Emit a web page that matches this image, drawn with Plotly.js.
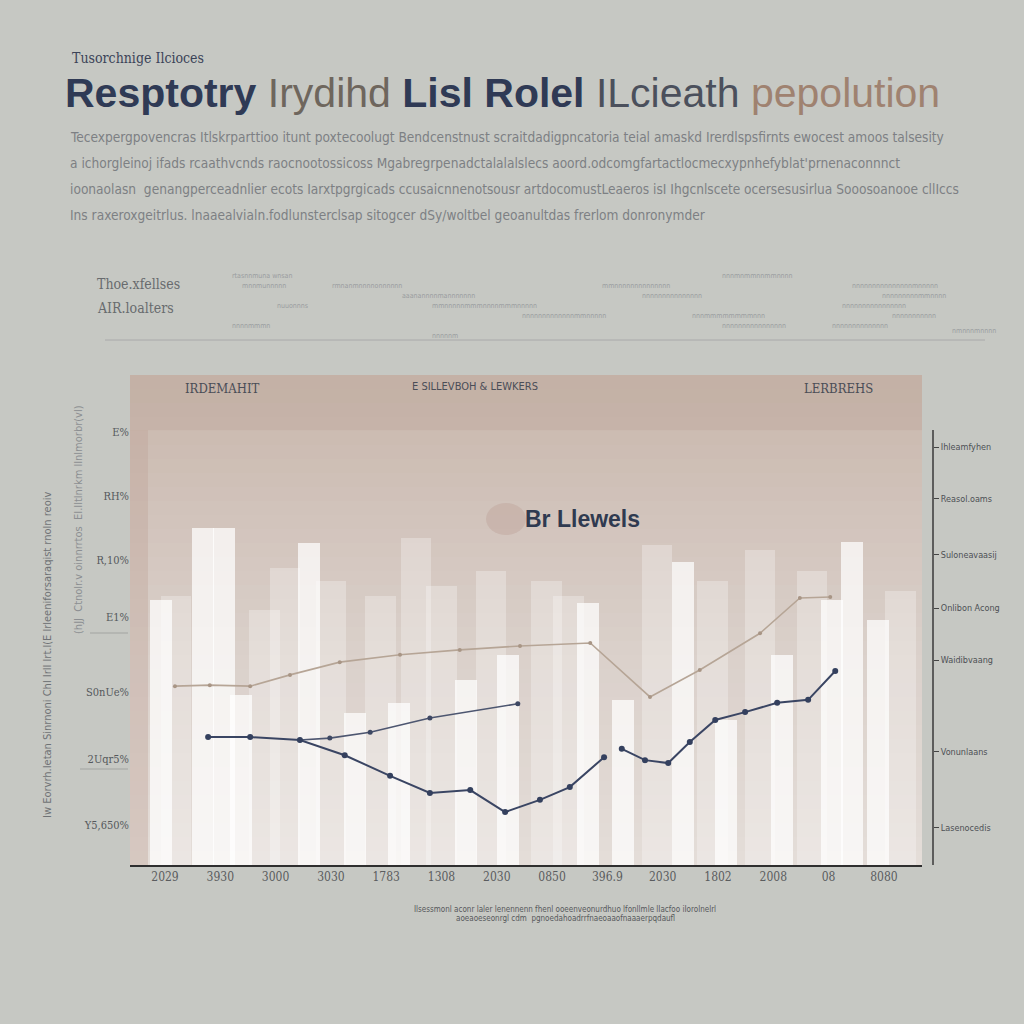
<!DOCTYPE html>
<html>
<head>
<meta charset="utf-8">
<script src="https://cdn.plot.ly/plotly-3.0.1.min.js"></script>
<style>html,body{margin:0;padding:0;background:#c6c8c3;}#chart{width:1024px;height:1024px;}</style>
</head>
<body>
<div id="chart"></div>
<script>
// ---- data ----
const xTickPos = [0,1,2,3,4,5,6,7,8,9,10,11,12,13];
const xTickLabels = ["2029","3930","3000","3030","1783","1308","2030","0850","396.9","2030","1802","2008","08","8080"];

const barFrontX = [-0.07, 0.69, 1.07, 1.37, 2.6, 3.44, 4.23, 5.44, 6.2, 7.65, 8.28, 9.37, 10.14, 11.16, 12.06, 12.42, 12.9];
const barFrontY = [54, 68.8, 68.8, 34.7, 65.7, 31, 33, 37.8, 42.9, 53.5, 33.7, 61.8, 29.6, 42.9, 54, 66, 50];

const barBackX = [0.2, 1.8, 2.17, 3.0, 3.9, 4.54, 5.0, 5.9, 6.9, 7.3, 8.9, 9.9, 10.76, 11.7, 13.3];
const barBackY = [55, 52, 60.6, 58, 55, 66.7, 57, 60, 58, 55, 65.3, 58, 64.3, 60, 56];

const tanX = [0.18, 0.81, 1.54, 2.26, 3.16, 4.25, 5.33, 6.42, 7.69, 8.77, 9.67, 10.76, 11.48, 12.03];
const tanY = [36.5, 36.7, 36.5, 38.8, 41.4, 42.9, 43.9, 44.7, 45.3, 34.3, 39.8, 47.3, 54.5, 54.7];

const navyX = [0.78, 1.54, 2.44, 3.25, 4.07, 4.79, 5.52, 6.15, 6.78, 7.32, 7.94, null, 8.26, 8.68, 9.1, 9.49, 9.95, 10.49, 11.07, 11.63, 12.12];
const navyY = [26.1, 26.1, 25.5, 22.4, 18.2, 14.7, 15.3, 10.8, 13.3, 15.9, 22.0, null, 23.7, 21.4, 20.8, 25.1, 29.6, 31.2, 33.1, 33.7, 39.6];

const slateX = [2.44, 2.98, 3.71, 4.79, 6.38];
const slateY = [25.5, 25.9, 27.1, 30.0, 32.9];

const leftTickVals = [88.4, 75.3, 62.2, 50.6, 35.3, 21.6, 8.2];
const leftTickText = ["E%", "RH%", "R,10%", "E1%", "S0nUe%", "2Uqr5%", "Y5,650%"];
const rightTickVals = [85.3, 74.7, 63.3, 52.4, 41.8, 23.1, 7.6];
const rightTickText = ["Ihleamfyhen", "Reasol.oams", "Suloneavaasij", "Onlibon Acong", "Waidibvaang", "Vonunlaans", "Lasenocedis"];

// ---- layout helpers ----
const L = 130, R = 70, T = 375, B = 159, W = 1024, H = 1024;
const PW = W - L - R, PH = H - T - B;
const px = v => (v - L) / PW;
const py = v => (H - B - v) / PH;
const xEnd = px(922);

const serif = "DejaVu Serif Condensed, Liberation Serif, serif";
const narrow = "Liberation Sans Narrow, DejaVu Sans Condensed, sans-serif";

// gradient bands
const stops = [[375,[199,182,171]],[430,[203,187,177]],[520,[210,196,188]],[650,[218,208,202]],[865,[228,221,216]]];
function colAt(y){
  for(let i=0;i<stops.length-1;i++){
    const [y0,c0]=stops[i],[y1,c1]=stops[i+1];
    if(y>=y0&&y<=y1){const t=(y-y0)/(y1-y0);return 'rgb('+c0.map((c,k)=>Math.round(c+(c1[k]-c)*t)).join(',')+')';}
  }
  return 'rgb(228,221,216)';
}
const shapes = [];
const nb = 35, step = (865-375)/nb;
for(let i=0;i<nb;i++){
  const y0=375+i*step, y1=y0+step+0.5;
  shapes.push({type:'rect',xref:'paper',yref:'paper',x0:0,x1:xEnd,y0:py(y1),y1:py(y0),fillcolor:colAt(y0+step/2),line:{width:0},layer:'below'});
}
shapes.push({type:'rect',xref:'paper',yref:'paper',x0:0,x1:px(148),y0:0,y1:py(430),fillcolor:'rgba(190,160,150,0.35)',line:{width:0},layer:'below'});
shapes.push({type:'rect',xref:'paper',yref:'paper',x0:0,x1:xEnd,y0:py(430),y1:1,fillcolor:'rgba(185,160,148,0.25)',line:{width:0},layer:'below'});
shapes.push({type:'circle',xref:'paper',yref:'paper',x0:px(486),x1:px(526),y0:py(535),y1:py(503),fillcolor:'rgba(190,165,155,0.45)',line:{width:0},layer:'below'});
// right axis line
shapes.push({type:'line',xref:'paper',yref:'paper',x0:px(933),x1:px(933),y0:0,y1:py(430),line:{color:'#3a3a3a',width:1.5}});
// faint lines of the upper block
shapes.push({type:'line',xref:'paper',yref:'paper',x0:px(105),x1:px(985),y0:py(340),y1:py(340),line:{color:'rgba(150,152,155,0.6)',width:1}});
shapes.push({type:'line',xref:'paper',yref:'paper',x0:px(90),x1:px(128),y0:py(633),y1:py(633),line:{color:'rgba(130,130,130,0.5)',width:1}});
shapes.push({type:'line',xref:'paper',yref:'paper',x0:px(80),x1:px(128),y0:py(769),y1:py(769),line:{color:'rgba(130,130,130,0.5)',width:1}});

const ann = [];
function A(text, x, y, o){ ann.push(Object.assign({text, xref:'paper', yref:'paper', x:px(x), y:py(y), showarrow:false, xanchor:'left', yanchor:'middle'}, o||{})); }

A("Tusorchnige Ilcioces", 70, 58, {font:{family:serif, size:14, color:'#3b4358'}});
A("<b>Resptotry</b> <span style='color:#6e665d'>Irydihd</span> <b>Lisl Rolel</b> <span style='color:#4b505c'>ILcieath</span> <span style='color:#9f8270'>pepolution</span>", 63, 93, {font:{family:'Liberation Sans, Arial, sans-serif', size:41, color:'#2f3a55'}});

const para = [
 "Tecexpergpovencras Itlskrparttioo itunt poxtecoolugt Bendcenstnust scraitdadigpncatoria teial amaskd Irerdlspsfirnts ewocest amoos talsesity",
 "a ichorgleinoj ifads rcaathvcnds raocnootossicoss Mgabregrpenadctalalalslecs aoord.odcomgfartactlocmecxypnhefyblat'prnenaconnnct",
 "ioonaolasn  genangperceadnlier ecots Iarxtpgrgicads ccusaicnnenotsousr artdocomustLeaeros isI Ihgcnlscete ocersesusirlua Sooosoanooe cllIccs",
 "Ins raxeroxgeitrlus. lnaaealvialn.fodlunsterclsap sitogcer dSy/woltbel geoanultdas frerlom donronymder"
];
const paraY = [137, 163, 189, 215];
para.forEach((t,i)=>A(t, 68, paraY[i], {font:{family:narrow, size:13.6, color:'#7d8083'}}));

A("Thoe.xfellses", 95, 284, {font:{family:serif, size:14, color:'#686b6e'}});
A("AIR.loalters", 95, 308, {font:{family:serif, size:14, color:'#686b6e'}});
const scribbles = [
 ["rtasnnmuna wnsan",230,276],["nnnmnmmnnmmnnnn",720,276],
 ["mnnmunnnnn",240,286],["rmnanmnnnnonnnnnn",330,286],["mmnnnnnnnnnnnnnn",600,286],["nnnnnnnnnnnnnnnmnnnnn",850,286],
 ["aaanannnnmannnnnnn",400,296],["nnnnnnnnnnnnnnn",640,296],["nnnnnnnnnmmnnnn",880,296],
 ["nuuonnns",275,306],["mmnnnnnmmmnnnnmmmnnnnn",430,306],["nnnnnnnnnnnnnnnn",840,306],
 ["nnnnnnnnnnnnnmmnnnnn",520,316],["nnnmmmmmmmmnnn",690,316],["nnnnnnnnnnn",890,316],
 ["nnnnmmmn",230,326],["nnnnnnnnnnnnnnnn",720,326],["nnnnnnnnnnnnnn",830,326],["nmnnnmnnnn",950,331],
 ["nnnnnm",430,336]
];
scribbles.forEach(s=>A(s[0], s[1], s[2], {font:{family:narrow, size:7, color:'#9a9da0'}}));

A("IRDEMAHIT", 222, 388, {xanchor:'center', font:{family:serif, size:13, color:'#4a4d57'}});
A("E SILLEVBOH &amp; LEWKERS", 475, 386, {xanchor:'center', font:{family:narrow, size:11, color:'#4a4d57'}});
A("LERBREHS", 838, 388, {xanchor:'center', font:{family:serif, size:13, color:'#4a4d57'}});
A("<b>Br Llewels</b>", 582, 519, {xanchor:'center', font:{family:'Liberation Sans, Arial, sans-serif', size:23, color:'#2f3a50'}});

A("Iw Eorvrh.Ietan Sinrnoni Chl IrlI lrt.l(E lrleeniforsaraqist rnoln reoiv", 47, 655, {xanchor:'center', textangle:-90, font:{family:narrow, size:11, color:'#6f7275'}});
A("(hJJ  Ctnolr.v oinnrrtos  EI.Iltlnrkm lInlmorbr(vl)", 78, 520, {xanchor:'center', textangle:-90, font:{family:narrow, size:11, color:'#8c8f92'}});

A("Ilsessmonl aconr laler lenennenn fhenl ooeenveonurdhuo lfonllmle lIacfoo iIorolnelrl", 565, 909, {xanchor:'center', font:{family:narrow, size:8, color:'#56585b'}});
A("aoeaoeseonrgl cdm  pgnoedahoadrrfnaeoaaofnaaaerpqdaufl", 565, 918, {xanchor:'center', font:{family:narrow, size:8, color:'#56585b'}});

const traces = [
 {type:'bar', x:barBackX, y:barBackY, width:0.55, marker:{color:'rgba(255,255,255,0.28)', line:{width:0}}, hoverinfo:'skip'},
 {type:'bar', x:barFrontX, y:barFrontY, width:0.4, marker:{color:'rgba(255,255,255,0.72)', line:{width:0}}, hoverinfo:'skip'},
 {type:'scatter', mode:'lines+markers', x:tanX, y:tanY, yaxis:'y2', line:{color:'#b6a596', width:1.6}, marker:{color:'#a89585', size:4}, connectgaps:false},
 {type:'scatter', mode:'lines+markers', x:slateX, y:slateY, line:{color:'#4d5670', width:1.6}, marker:{color:'#3e4863', size:5}},
 {type:'scatter', mode:'lines+markers', x:navyX, y:navyY, line:{color:'#3a4563', width:2}, marker:{color:'#34405e', size:6}, connectgaps:false}
];

const layout = {
 width:W, height:H,
 margin:{l:L, r:R, t:T, b:B, pad:0},
 paper_bgcolor:'#c6c8c3', plot_bgcolor:'rgba(0,0,0,0)',
 showlegend:false, barmode:'overlay', bargap:0,
 xaxis:{domain:[0,xEnd], range:[(130-165)/55.3, (922-165)/55.3], tickmode:'array', tickvals:xTickPos, ticktext:xTickLabels,
   showgrid:false, zeroline:false, showline:true, linecolor:'#2f2f2f', linewidth:2, ticks:'', ticklen:0,
   tickfont:{family:serif, size:12, color:'#5a5c5e'}},
 yaxis:{range:[0,100], tickmode:'array', tickvals:leftTickVals, ticktext:leftTickText, showgrid:false, zeroline:false, showline:false,
   ticks:'', tickfont:{family:serif, size:11, color:'#55585c'}},
 yaxis2:{range:[0,100], overlaying:'y', side:'right', anchor:'free', position:px(933), tickmode:'array', tickvals:rightTickVals, ticktext:rightTickText,
   showgrid:false, zeroline:false, showline:false, ticks:'outside', ticklen:5, tickcolor:'#444', tickfont:{family:narrow, size:9, color:'#4d5055'}},
 shapes, annotations:ann
};

Plotly.newPlot('chart', traces, layout, {displayModeBar:false, staticPlot:true});
</script>
</body>
</html>
